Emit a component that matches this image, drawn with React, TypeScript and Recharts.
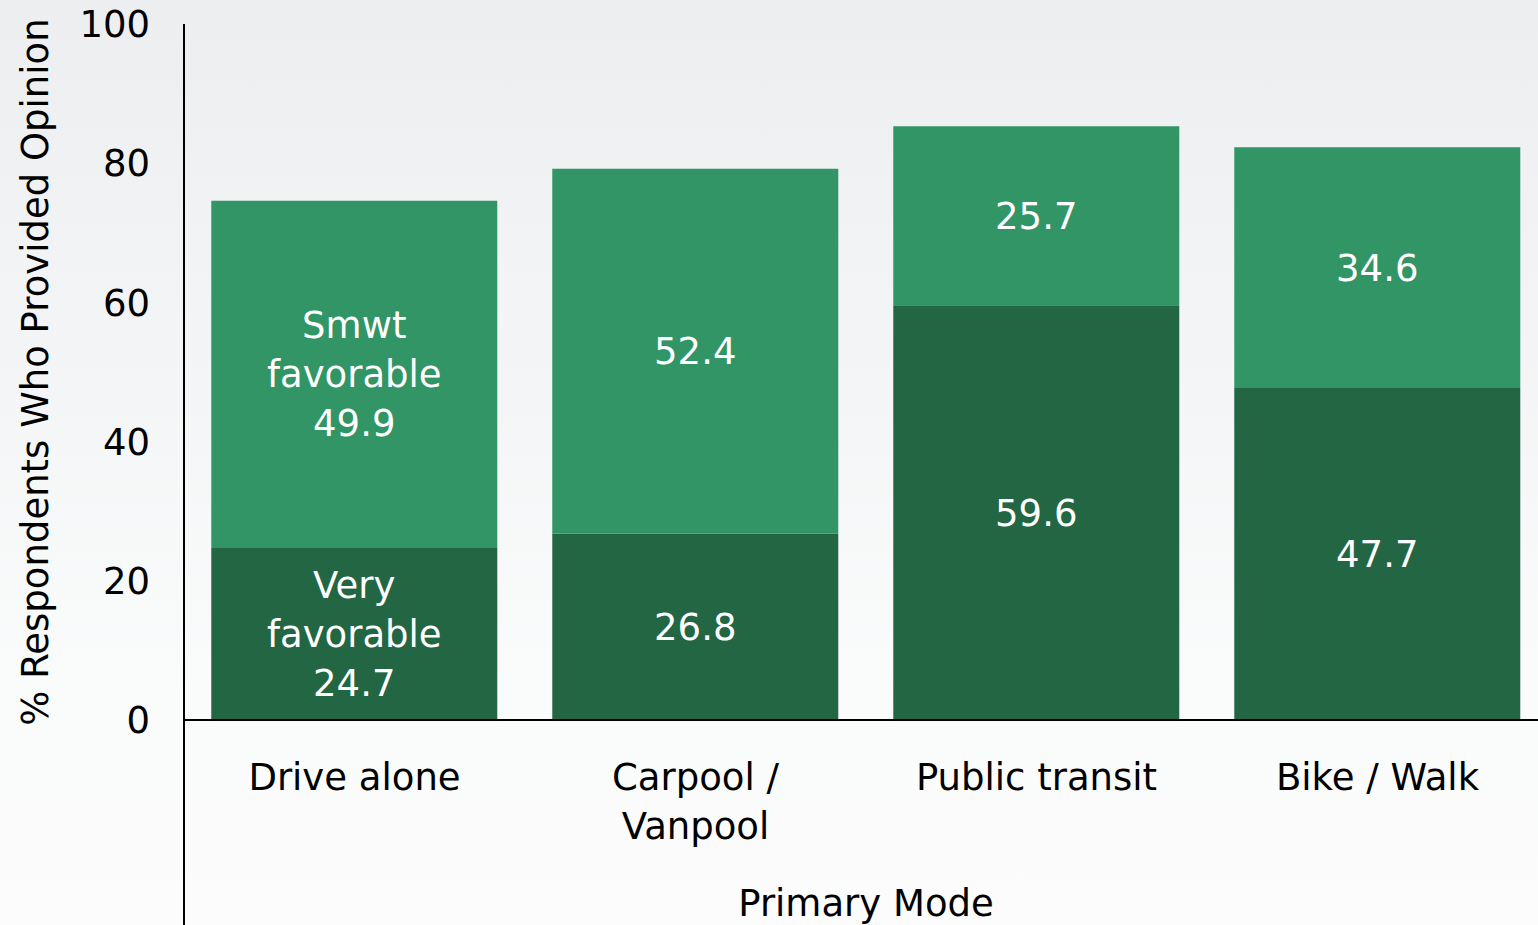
import { BarChart, Bar, XAxis, YAxis, LabelList } from 'recharts';

const categories = ['Drive alone', 'Carpool /\nVanpool', 'Public transit', 'Bike / Walk'];
const veryFavorable = [24.7, 26.8, 59.6, 47.7];
const smwtFavorable = [49.9, 52.4, 25.7, 34.6];
const yTicks = [0, 20, 40, 60, 80, 100];

const data = categories.map((name, i) => ({
  name,
  very: veryFavorable[i],
  smwt: smwtFavorable[i],
}));

const FONT = '"DejaVu Sans", Verdana, sans-serif';
const LINE_H = 49;

// white labels in the middle of each segment; first bar also carries the series name
const makeLabel = (seriesName: string) => (props: any) => {
  const { x, y, width, height, value, index } = props;
  const lines = index === 0 ? [...seriesName.split(' '), Number(value).toFixed(1)] : [Number(value).toFixed(1)];
  const cx = x + width / 2;
  const cy = y + height / 2;
  const first = cy - ((lines.length - 1) * LINE_H) / 2 + 13;
  return (
    <text x={cx} y={first} textAnchor="middle" fill="#fff" fontSize={37} fontFamily={FONT}>
      {lines.map((l, i) => (
        <tspan key={i} x={cx} y={first + i * LINE_H}>{l}</tspan>
      ))}
    </text>
  );
};

const XTick = (props: any) => {
  const { x, y, payload } = props;
  const lines = String(payload.value).split('\n');
  return (
    <text x={x} y={y} textAnchor="middle" fill="#000" fontSize={37} fontFamily={FONT}>
      {lines.map((l: string, i: number) => (
        <tspan key={i} x={x} y={y + 70 + i * LINE_H}>{l}</tspan>
      ))}
    </text>
  );
};

const XLabel = (props: any) => {
  const vb = props.viewBox;
  return (
    <g>
      {/* y-axis line continues below the baseline */}
      <line x1={vb.x} y1={vb.y} x2={vb.x} y2={vb.y + vb.height} stroke="#000" strokeWidth={2} />
      <text x={vb.x + vb.width / 2} y={vb.y + 196} textAnchor="middle" fill="#000" fontSize={37} fontFamily={FONT}>
        Primary Mode
      </text>
    </g>
  );
};

const YLabel = (props: any) => {
  const vb = props.viewBox;
  const cx = 35;
  const cy = vb.y + vb.height / 2;
  return (
    <text x={cx} y={cy} dy={13} textAnchor="middle" fill="#000" fontSize={37} fontFamily={FONT}
      transform={`rotate(-90 ${cx} ${cy})`}>
      % Respondents Who Provided Opinion
    </text>
  );
};

export default function App() {
  return (
    <div style={{
      position: 'absolute', left: 0, top: 0, width: 1538, height: 925, overflow: 'hidden',
      background: 'linear-gradient(#eceef0 0%, #f3f4f5 35%, #fafbfb 75%, #fcfcfc 100%)',
    }}>
      <BarChart width={1548} height={925} data={data} barCategoryGap="8%"
        margin={{ top: 24, right: 0, left: 0, bottom: 0 }}>
        <XAxis dataKey="name" height={205} tickLine={false} tickSize={0} tickMargin={0}
          axisLine={{ stroke: '#000', strokeWidth: 2 }} tick={<XTick />} interval={0}
          label={<XLabel />} />
        <YAxis width={184} domain={[0, 100]} ticks={yTicks} tickLine={false} tickSize={0} tickMargin={34}
          axisLine={{ stroke: '#000', strokeWidth: 2 }}
          tick={{ fill: '#000', fontSize: 37, fontFamily: FONT }} label={<YLabel />} />
        <Bar dataKey="very" stackId="a" fill="#236644" isAnimationActive={false}>
          <LabelList dataKey="very" content={makeLabel('Very favorable')} />
        </Bar>
        <Bar dataKey="smwt" stackId="a" fill="#329565" isAnimationActive={false}>
          <LabelList dataKey="smwt" content={makeLabel('Smwt favorable')} />
        </Bar>
      </BarChart>
    </div>
  );
}
